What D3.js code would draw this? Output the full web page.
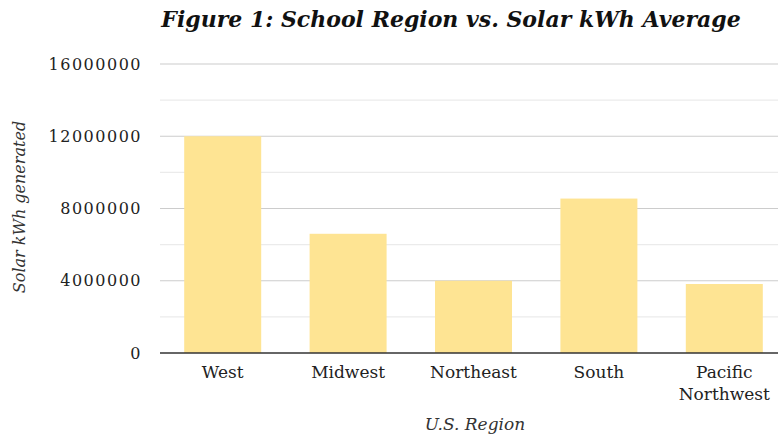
<!DOCTYPE html>
<html>
<head>
<meta charset="utf-8">
<script src="https://cdn.jsdelivr.net/npm/d3@7"></script>
<style>
  body { margin: 0; background: #fff; }
  svg { display: block; }
  text { font-family: "DejaVu Serif", serif; }
</style>
</head>
<body>
<svg id="chart" width="778" height="434"></svg>
<script>
// data
const regions = ["West", "Midwest", "Northeast", "South", "Pacific Northwest"];
const solarKwh = [12000000, 6600000, 4000000, 8550000, 3820000];
const majorTicks = [0, 4000000, 8000000, 12000000, 16000000];
const minorTicks = [2000000, 6000000, 10000000, 14000000];

const FONT = "'DejaVu Serif', serif";

const svg = d3.select("#chart");
const margin = { top: 64, right: -9, bottom: 81, left: 160 };
const width = 778 - margin.left - margin.right;
const height = 434 - margin.top - margin.bottom;
const gridRight = 778 - margin.left;

const chart = svg.append("g")
    .attr("transform", `translate(${margin.left},${margin.top})`);

const xScale = d3.scaleBand()
    .domain(regions)
    .range([0, width])
    .paddingInner(0.386)
    .paddingOuter(0.193);

const yScale = d3.scaleLinear()
    .domain([0, 16000000])
    .range([height, 0]);

// gridlines
chart.selectAll(".minor")
    .data(minorTicks)
    .enter().append("line")
    .attr("x1", 0)
    .attr("x2", gridRight)
    .attr("y1", d => yScale(d))
    .attr("y2", d => yScale(d))
    .attr("stroke", "#ebebeb")
    .attr("stroke-width", 1.2);

chart.selectAll(".major")
    .data(majorTicks.slice(1))
    .enter().append("line")
    .attr("x1", 0)
    .attr("x2", gridRight)
    .attr("y1", d => yScale(d))
    .attr("y2", d => yScale(d))
    .attr("stroke", "#cccccc")
    .attr("stroke-width", 1.2);

// bars
chart.selectAll(".bar")
    .data(solarKwh)
    .enter().append("rect")
    .attr("x", (_, i) => xScale(regions[i]))
    .attr("y", d => yScale(d))
    .attr("width", xScale.bandwidth())
    .attr("height", d => height - yScale(d))
    .attr("fill", "#fee493");

// baseline
chart.append("line")
    .attr("x1", 0)
    .attr("x2", gridRight)
    .attr("y1", yScale(0))
    .attr("y2", yScale(0))
    .attr("stroke", "#333")
    .attr("stroke-width", 1.5);

// y axis labels
const yAxis = chart.append("g")
    .call(d3.axisLeft(yScale).tickValues(majorTicks).tickFormat(d3.format("d")).tickSize(0).tickPadding(18));
yAxis.select(".domain").remove();
yAxis.attr("font-family", null).attr("font-size", null);
yAxis.selectAll("text")
    .style("font-family", FONT)
    .style("font-size", "16px")
    .style("letter-spacing", "1.5px")
    .attr("fill", "#222");

// x axis labels
const xAxis = chart.append("g")
    .attr("transform", `translate(0,${height})`)
    .call(d3.axisBottom(xScale).tickSize(0).tickPadding(13));
xAxis.select(".domain").remove();
xAxis.attr("font-family", null).attr("font-size", null);
xAxis.selectAll("text")
    .style("font-family", FONT)
    .style("font-size", "17px")
    .attr("fill", "#222")
    .each(function (d) {
        const words = d.split(" ");
        if (words.length > 1) {
            const t = d3.select(this).text(null);
            words.forEach((w, i) => {
                t.append("tspan")
                    .attr("x", 0)
                    .attr("dy", i === 0 ? "0.71em" : "1.3em")
                    .text(w);
            });
            t.attr("dy", null);
        }
    });

// titles
svg.append("text")
    .attr("x", 451)
    .attr("y", 27)
    .attr("text-anchor", "middle")
    .style("font-family", FONT)
    .style("font-size", "22px")
    .style("font-weight", "bold")
    .style("font-style", "italic")
    .attr("fill", "#111")
    .text("Figure 1: School Region vs. Solar kWh Average");

svg.append("text")
    .attr("x", 475)
    .attr("y", 430)
    .attr("text-anchor", "middle")
    .style("font-family", FONT)
    .style("font-size", "17px")
    .style("font-style", "italic")
    .attr("fill", "#333")
    .text("U.S. Region");

svg.append("text")
    .attr("transform", "translate(25,207) rotate(-90)")
    .attr("text-anchor", "middle")
    .style("font-family", FONT)
    .style("font-size", "16px")
    .style("font-style", "italic")
    .attr("fill", "#333")
    .text("Solar kWh generated");
</script>
</body>
</html>
